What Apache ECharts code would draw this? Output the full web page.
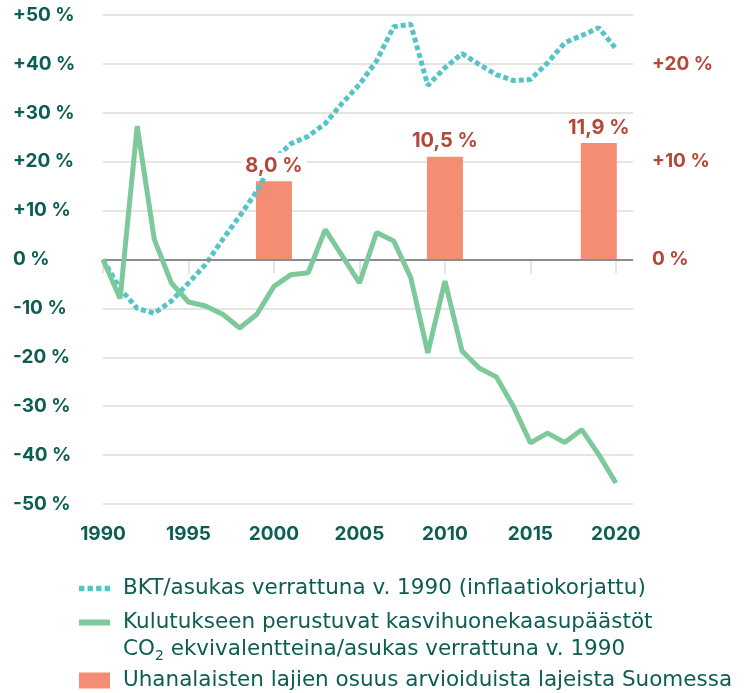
<!DOCTYPE html>
<html>
<head>
<meta charset="utf-8">
<script src="https://cdn.jsdelivr.net/npm/echarts@6/dist/echarts.min.js"></script>
<style>html,body{margin:0;padding:0;background:#fff}#c{width:752px;height:693px}</style>
</head>
<body>
<div id="c"></div>
<script>
var years = [1990,1991,1992,1993,1994,1995,1996,1997,1998,1999,2000,2001,2002,2003,2004,2005,2006,2007,2008,2009,2010,2011,2012,2013,2014,2015,2016,2017,2018,2019,2020];
var gdpPerCapita = [0,-6,-10,-11,-8.5,-4.8,-1,4.1,8.9,14,20.5,23.7,25.2,27.8,32,35.8,40.6,47.6,48.1,35.6,39.2,42.1,39.9,37.8,36.6,36.8,40.2,44.3,45.8,47.4,43.1];
var emissions = [0,-8,27.3,4.1,-4.8,-8.7,-9.5,-11.2,-14,-11.2,-5.5,-3.1,-2.7,6.1,0.7,-4.8,5.5,3.8,-3.7,-19.1,-4.4,-18.7,-22.2,-24,-30,-37.5,-35.5,-37.4,-34.8,-39.9,-45.7];
var barYears = [2000, 2010, 2019];
var threatened = [8.0, 10.5, 11.9];
var xTicks = [1990,1995,2000,2005,2010,2015,2020];
var leftTicks = [-50,-40,-30,-20,-10,0,10,20,30,40,50];
var rightTicks = [0,10,20];

var nameGdp = 'BKT/asukas verrattuna v. 1990 (inflaatiokorjattu)';
var nameEm = 'Kulutukseen perustuvat kasvihuonekaasupäästöt CO2 ekvivalentteina/asukas verrattuna v. 1990';
var nameBar = 'Uhanalaisten lajien osuus arvioiduista lajeista Suomessa';

var teal = '#0c5e52';
var red = '#b4473a';
var font = 'Inter';
var legendFont = '"DejaVu Sans"';

function pct(v){ return (v > 0 ? '+' : '') + v + ' %'; }

var chart = echarts.init(document.getElementById('c'), null, {renderer:'canvas'});
var legendText = {color: teal, fontFamily: legendFont, fontSize: 21.5, lineHeight: 27, padding: [0,0,0,8],
  rich: {sub: {fontSize: 14, lineHeight: 16, verticalAlign: 'bottom', color: teal, fontFamily: legendFont}}};
var barData = barYears.map(function(y,i){ return [y, threatened[i]]; });
chart.setOption({
  animation: false,
  grid: {left: 103, right: 119, top: 15, bottom: 189},
  xAxis: {
    type: 'value', min: 1990, max: 2021, interval: 5,
    axisLine: {show: true, lineStyle: {color: '#dcdcd6', width: 1.5}},
    axisTick: {show: true, length: 14, customValues: xTicks, lineStyle: {color: '#dcdcd6', width: 1.5}},
    axisLabel: {customValues: xTicks, margin: 21, color: teal, fontFamily: font, fontWeight: 'bold', fontSize: 19, formatter: function(v){return String(v);}},
    splitLine: {show: false}
  },
  yAxis: [{
    type: 'value', min: -50, max: 50, interval: 10,
    axisLine: {show: false}, axisTick: {show: false},
    axisLabel: {customValues: leftTicks, align: 'left', margin: 90, color: teal, fontFamily: font, fontWeight: 'bold', fontSize: 19,
      formatter: function(v){ return pct(v); }},
    splitLine: {show: true, lineStyle: {color: '#dcdcd6', width: 1.5}}
  }, {
    type: 'value', min: -25, max: 25, interval: 5, position: 'right',
    axisLine: {show: false}, axisTick: {show: false},
    axisLabel: {customValues: rightTicks, align: 'left', margin: 19, color: red, fontFamily: font, fontWeight: 'bold', fontSize: 19,
      formatter: function(v){ return pct(v); }},
    splitLine: {show: false}
  }],
  legend: [{
    left: 79, top: 575, padding: 0, itemWidth: 31, itemHeight: 6,
    data: [{name: nameGdp, icon: 'path://M0,0h5.5v5.5h-5.5z M8.8,0h5.5v5.5h-5.5z M17.6,0h5.5v5.5h-5.5z M26.4,0h5.5v5.5h-5.5z', itemStyle: {color: '#55c4c9'}}],
    textStyle: legendText, selectedMode: false
  }, {
    left: 79, top: 582, padding: 0, itemWidth: 31, itemHeight: 6,
    data: [{name: nameEm, icon: 'rect', itemStyle: {color: '#7dc99b'}}],
    formatter: function(){ return '\nKulutukseen perustuvat kasvihuonekaasupäästöt\nCO{sub|2} ekvivalentteina/asukas verrattuna v. 1990'; },
    textStyle: legendText, selectedMode: false
  }, {
    left: 79, top: 667, padding: 0, itemWidth: 31, itemHeight: 16,
    data: [{name: nameBar, icon: 'rect', itemStyle: {color: '#f48d74'}}],
    textStyle: legendText, selectedMode: false
  }],
  series: [{
    name: nameBar, type: 'bar', yAxisIndex: 1, barWidth: 36, z: 2,
    itemStyle: {color: '#f48d74'},
    data: barData,
    markLine: {silent: true, symbol: 'none', label: {show: false}, lineStyle: {color: '#8c8c8c', width: 2, type: 'solid'},
      data: [{yAxis: 0}]}
  }, {
    name: nameGdp, type: 'line', z: 4, showSymbol: false, symbol: 'none',
    lineStyle: {color: '#55c4c9', width: 5, type: [5, 3], cap: 'butt'},
    itemStyle: {color: '#55c4c9'},
    data: years.map(function(y,i){ return [y, gdpPerCapita[i]]; })
  }, {
    name: nameEm, type: 'line', z: 5, showSymbol: false, symbol: 'none',
    lineStyle: {color: '#7dc99b', width: 5},
    itemStyle: {color: '#7dc99b'},
    data: years.map(function(y,i){ return [y, emissions[i]]; })
  }, {
    name: 'barLabels', type: 'scatter', yAxisIndex: 1, z: 10, symbolSize: 1, silent: true,
    itemStyle: {color: 'rgba(0,0,0,0)', opacity: 1},
    data: barData,
    label: {show: true, position: 'top', distance: 3, color: red, opacity: 1, fontFamily: font, fontWeight: 'bold', fontSize: 20,
      backgroundColor: '#fff', padding: [3, 4, 2, 4],
      formatter: function(p){ return p.value[1].toFixed(1).replace('.', ',') + ' %'; }}
  }]
});
</script>
</body>
</html>
